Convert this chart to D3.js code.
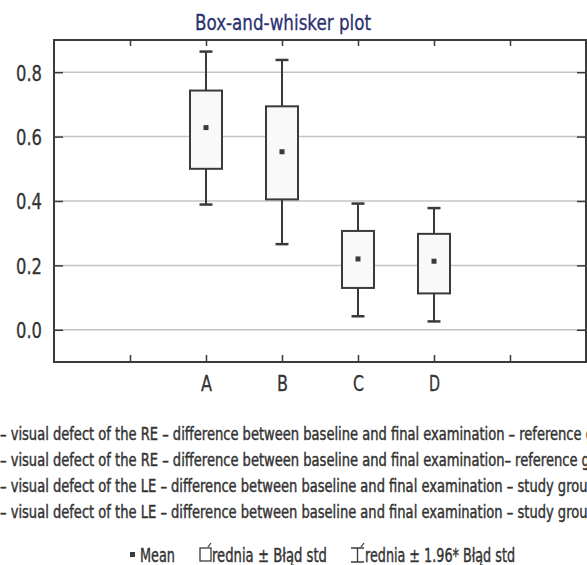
<!DOCTYPE html>
<html><head><meta charset="utf-8">
<script src="https://cdn.jsdelivr.net/npm/d3@7"></script>
<style>
body{margin:0;background:#fff;}
svg{display:block;}
text{font-family:"DejaVu Sans Condensed","Liberation Sans Narrow",sans-serif;fill:#333;}
</style></head>
<body>
<svg id="chart" width="587" height="565"></svg>
<script>
const categories = ["A","B","C","D"];
const whiskerHigh = [0.864, 0.838, 0.392, 0.378];
const boxHigh = [0.743, 0.694, 0.307, 0.298];
const means = [0.628, 0.553, 0.220, 0.213];
const boxLow = [0.500, 0.405, 0.130, 0.113];
const whiskerLow = [0.389, 0.266, 0.042, 0.026];
const yTicks = [0.0, 0.2, 0.4, 0.6, 0.8];
const xSlots = ["", "A", "B", "C", "D", ""];
const title = "Box-and-whisker plot";
const notes = [
  "– visual defect of the RE – difference between baseline and final examination – reference group",
  "– visual defect of the RE  – difference between baseline and final examination– reference group",
  "– visual defect of the LE  – difference between baseline and final examination – study group",
  "– visual defect of the LE – difference between baseline and final examination – study group"
];
const legendItems = ["Mean", "Średnia ± Błąd std", "Średnia ± 1.96* Błąd std"];

const svg = d3.select("#chart");
const L = 54, R = 586, T = 40, B = 362;
const x = d3.scaleLinear().domain([0, 7]).range([L, R]);
const y = d3.scaleLinear().domain([-0.1, 0.9]).range([B, T]);
const dark = "#3a3a3a";
const fit = (sel, w) => sel.attr("textLength", w).attr("lengthAdjust", "spacingAndGlyphs");
const thicken = sel => sel.attr("stroke", "#333").attr("stroke-width", 0.4);

// gridlines
svg.append("g").selectAll("line").data(yTicks).join("line")
  .attr("x1", L).attr("x2", R).attr("y1", d => y(d)).attr("y2", d => y(d))
  .attr("stroke", "#c4c4c4").attr("stroke-width", 1.5);

// axes (inward ticks)
const yAxisL = d3.axisLeft(y).tickValues(yTicks).tickSize(-9).tickPadding(12).tickFormat(d3.format(".1f"));
const gL = svg.append("g").attr("transform", `translate(${L},0)`).call(yAxisL);
gL.select(".domain").remove();
gL.selectAll("line").attr("stroke", dark).attr("stroke-width", 1.5);
gL.selectAll("text").attr("font-size", 22).attr("fill", "#333").attr("x", -12).attr("dy", "0.36em")
  .style("font-family", '"DejaVu Sans Condensed",sans-serif');
fit(gL.selectAll("text"), 26);
thicken(gL.selectAll("text")).attr("stroke-width", 0.3);

const yAxisR = d3.axisRight(y).tickValues(yTicks).tickSize(-9).tickFormat("");
const gR = svg.append("g").attr("transform", `translate(${R},0)`).call(yAxisR);
gR.select(".domain").remove();
gR.selectAll("line").attr("stroke", dark).attr("stroke-width", 1.5);

const xTickVals = d3.range(1, 7);
const xAxisB = d3.axisBottom(x).tickValues(xTickVals).tickSize(-7).tickPadding(14)
  .tickFormat((d, i) => xSlots[i]);
const gB = svg.append("g").attr("transform", `translate(0,${B})`).call(xAxisB);
gB.select(".domain").remove();
gB.selectAll("line").attr("stroke", dark).attr("stroke-width", 1.5);
gB.selectAll("text").attr("font-size", 21).attr("fill", "#333")
  .style("font-family", '"DejaVu Sans Condensed",sans-serif');
gB.selectAll("text").filter(d => xSlots[xTickVals.indexOf(d)] !== "")
  .attr("textLength", 11).attr("lengthAdjust", "spacingAndGlyphs")
  .attr("stroke", "#333").attr("stroke-width", 0.3);

const xAxisT = d3.axisTop(x).tickValues(xTickVals).tickSize(-6).tickFormat("");
const gT = svg.append("g").attr("transform", `translate(0,${T})`).call(xAxisT);
gT.select(".domain").remove();
gT.selectAll("line").attr("stroke", dark).attr("stroke-width", 1.5);

// frame
svg.append("rect").attr("x", L).attr("y", T).attr("width", R - L).attr("height", B - T)
  .attr("fill", "none").attr("stroke", dark).attr("stroke-width", 2);

// boxes
const boxW = 32, capW = 13, ms = 5;
const g = svg.append("g").selectAll("g").data(categories).join("g");
g.append("line")
  .attr("x1", (d, i) => x(i + 2)).attr("x2", (d, i) => x(i + 2))
  .attr("y1", (d, i) => y(whiskerHigh[i])).attr("y2", (d, i) => y(whiskerLow[i]))
  .attr("stroke", dark).attr("stroke-width", 2);
g.append("line")
  .attr("x1", (d, i) => x(i + 2) - capW / 2).attr("x2", (d, i) => x(i + 2) + capW / 2)
  .attr("y1", (d, i) => y(whiskerHigh[i])).attr("y2", (d, i) => y(whiskerHigh[i]))
  .attr("stroke", dark).attr("stroke-width", 2.5);
g.append("line")
  .attr("x1", (d, i) => x(i + 2) - capW / 2).attr("x2", (d, i) => x(i + 2) + capW / 2)
  .attr("y1", (d, i) => y(whiskerLow[i])).attr("y2", (d, i) => y(whiskerLow[i]))
  .attr("stroke", dark).attr("stroke-width", 2.5);
g.append("rect")
  .attr("x", (d, i) => x(i + 2) - boxW / 2).attr("width", boxW)
  .attr("y", (d, i) => y(boxHigh[i])).attr("height", (d, i) => y(boxLow[i]) - y(boxHigh[i]))
  .attr("fill", "#f9f9f9").attr("stroke", dark).attr("stroke-width", 2);
g.append("rect")
  .attr("x", (d, i) => x(i + 2) - ms / 2).attr("width", ms)
  .attr("y", (d, i) => y(means[i]) - ms / 2).attr("height", ms)
  .attr("fill", dark);

// title
fit(svg.append("text").attr("x", 283).attr("y", 30).attr("text-anchor", "middle")
  .attr("font-size", 22).style("fill", "#2b3170").attr("stroke", "#2b3170").attr("stroke-width", 0.3).text(title), 176);

// notes
const noteY = [440, 466, 492, 518];
const noteG = svg.append("g");
let k = 1;
notes.forEach((t, i) => {
  const el = noteG.append("text").attr("x", 0).attr("y", noteY[i]).attr("font-size", 18.5).text(t);
  thicken(el);
  if (i === 0) {
    const w = el.node().getSubStringLength(0, t.indexOf(" group"));
    k = 582 / w;
  }
});
noteG.attr("transform", `scale(${k},1)`);
noteG.selectAll("text").attr("stroke-width", 0.4 / Math.sqrt(k));

// legend
const ly = 562;
svg.append("rect").attr("x", 130).attr("y", ly - 10).attr("width", 5).attr("height", 5).attr("fill", dark);
thicken(fit(svg.append("text").attr("x", 140).attr("y", ly).attr("font-size", 19).text(legendItems[0]), 35));

thicken(fit(svg.append("text").attr("x", 212).attr("y", ly).attr("font-size", 19).text(legendItems[1].slice(1)), 115));
svg.append("rect").attr("x", 200).attr("y", ly - 14).attr("width", 11).attr("height", 13)
  .attr("fill", "#fff").attr("stroke", dark).attr("stroke-width", 1.3);
svg.append("line").attr("x1", 208).attr("x2", 211).attr("y1", ly - 15).attr("y2", ly - 19).attr("stroke", dark).attr("stroke-width", 1.2);

thicken(fit(svg.append("text").attr("x", 365).attr("y", ly).attr("font-size", 19).text(legendItems[2].slice(1)), 150));
svg.append("line").attr("x1", 351).attr("x2", 364).attr("y1", ly - 14).attr("y2", ly - 14).attr("stroke", dark).attr("stroke-width", 1.5);
svg.append("line").attr("x1", 357.5).attr("x2", 357.5).attr("y1", ly - 14).attr("y2", ly).attr("stroke", dark).attr("stroke-width", 1.3);
svg.append("line").attr("x1", 351).attr("x2", 364).attr("y1", ly).attr("y2", ly).attr("stroke", dark).attr("stroke-width", 1.5);
svg.append("line").attr("x1", 361).attr("x2", 364).attr("y1", ly - 15).attr("y2", ly - 19).attr("stroke", dark).attr("stroke-width", 1.2);
</script>
</body></html>
